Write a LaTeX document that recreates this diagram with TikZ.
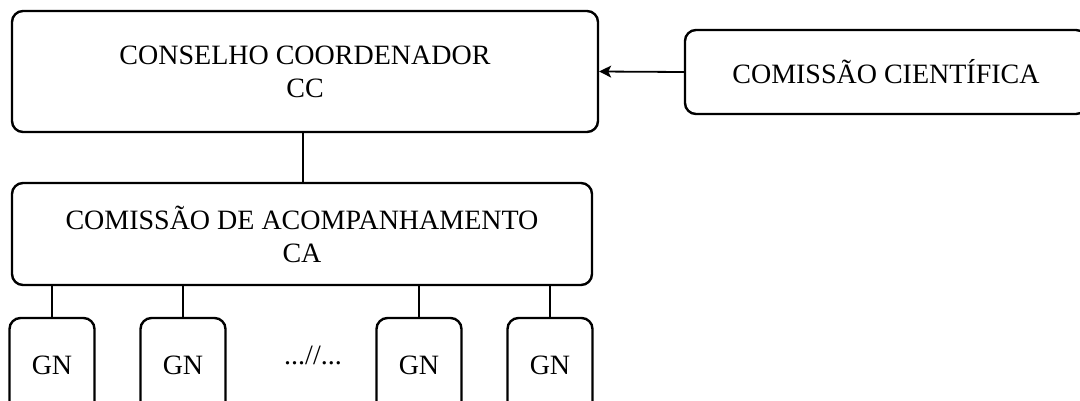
\documentclass[tikz,border=0pt]{standalone}
\usepackage{fontspec}
\setmainfont{Liberation Serif}
\usetikzlibrary{arrows.meta}
\begin{document}
\begin{tikzpicture}[x=1pt,y=-1pt,
  box/.style={draw, line width=2.4pt, rounded corners=11pt, inner sep=0pt, align=center, font=\fontsize{28}{33}\selectfont},
  lbl/.style={font=\fontsize{28}{33}\selectfont},
  conn/.style={draw, line width=1.8pt}]
\useasboundingbox (0,0) rectangle (1080,400);
\clip (0,0) rectangle (1080,400);
\node[box, minimum width=586pt, minimum height=121pt] (cc) at (305,71.5) {CONSELHO COORDENADOR\\CC};
\node[box, minimum width=402pt, minimum height=84pt] (cs) at (886,72) {COMISSÃO CIENTÍFICA};
\node[box, minimum width=580pt, minimum height=102pt] (ca) at (302,234) {COMISSÃO DE ACOMPANHAMENTO\\CA};
\node[box, minimum width=85pt, minimum height=100pt] (g1) at (52,368) {};
\node[box, minimum width=85pt, minimum height=100pt] (g2) at (183,368) {};
\node[box, minimum width=85pt, minimum height=100pt] (g3) at (419,368) {};
\node[box, minimum width=85pt, minimum height=100pt] (g4) at (550,368) {};
\node[lbl] (t1) at (52,365) {GN};
\node[lbl] (t2) at (183,365) {GN};
\node[lbl] (t3) at (419,365) {GN};
\node[lbl] (t4) at (550,365) {GN};
\node[lbl] (dots) at (313,355) {...//...};
\draw[conn, -{Stealth[length=12pt,width=12pt,inset=3pt]}] (cs.west) -- (cc.east);
\draw[conn] (cc.south -| 303,0) -- (ca.north -| 303,0);
\draw[conn] (ca.south -| g1.north) -- (g1.north);
\draw[conn] (ca.south -| g2.north) -- (g2.north);
\draw[conn] (ca.south -| g3.north) -- (g3.north);
\draw[conn] (ca.south -| g4.north) -- (g4.north);
\end{tikzpicture}
\end{document}
